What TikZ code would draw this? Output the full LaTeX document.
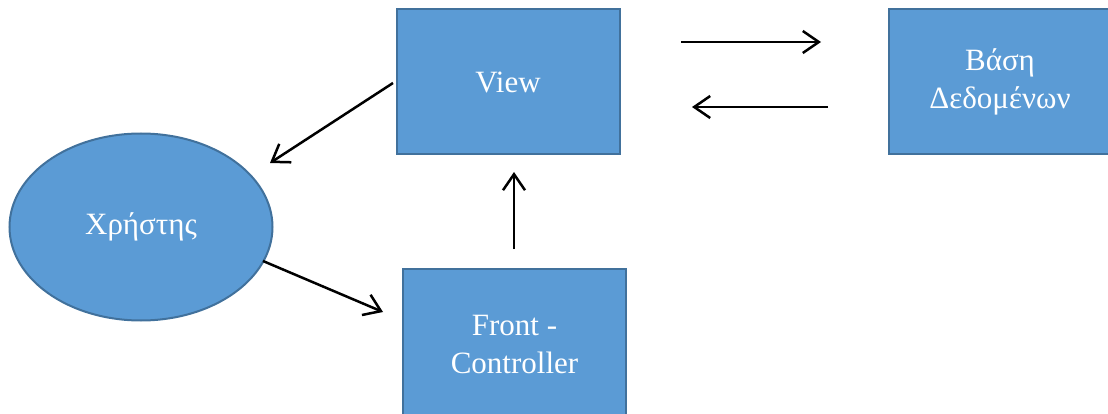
\documentclass[tikz,border=0pt]{standalone}
\usepackage{fontspec}
\setmainfont{Liberation Serif}
\usetikzlibrary{positioning, arrows.meta, shapes.geometric}
\definecolor{boxfill}{RGB}{91,155,213}
\definecolor{boxline}{RGB}{65,113,156}
\tikzset{
    every picture/.style={x=1pt, y=-1pt}, % pixel-like units, y downwards
    block/.style={rectangle, draw=boxline, fill=boxfill, line width=2pt,
        minimum width=223pt, minimum height=145pt, text=white, align=center,
        font=\fontsize{31}{38}\selectfont}, % the blue boxes
    actor/.style={block, ellipse, minimum width=263pt, minimum height=187pt}, % the user
    link/.style={-{Straight Barb[length=16pt, width=22pt]}, line width=2.5pt}, % arrows
    node distance=267pt, % gap between view and database
}
\begin{document}
\begin{tikzpicture}
    \useasboundingbox (0,0) rectangle (1108,414);
    \node[block] (view) at (508,82) {View};
    \node[block, right=of view] (db) {Βάση\\Δεδομένων};
    \node[block, minimum height=153pt] (fc) at (514.5,345) {Front -\\Controller};
    \node[actor] (user) at (141,227) {Χρήστης};
    % free ends of the arrows
    \coordinate (toview) at (514,172);
    \coordinate (fromfc) at (514,249);
    \coordinate (touser) at (270,163);
    \coordinate (fromview) at (393,83);
    \coordinate (fromuser) at (263,261);
    \coordinate (tofc) at (383,312);
    \coordinate (req) at (681,42);
    \coordinate (todb) at (821,42);
    \coordinate (resp) at (828,107);
    \coordinate (toview2) at (692,107);
    \draw[link] (fromview) -- (touser);
    \draw[link] (fromuser) -- (tofc);
    \draw[link] (fromfc) -- (toview);
    \draw[link] (req) -- (todb);
    \draw[link] (resp) -- (toview2);
\end{tikzpicture}
\end{document}
